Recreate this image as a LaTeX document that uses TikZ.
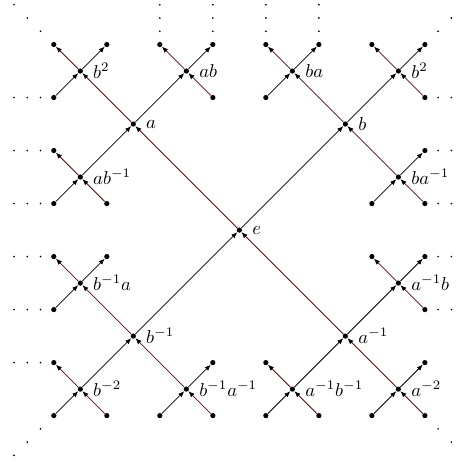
\documentclass[tikz,border=0pt]{standalone}
\usetikzlibrary{arrows.meta}
\definecolor{GenRed}{HTML}{5C0A0A}
\tikzset{vtx/.style={circle,fill=black,inner sep=0pt,minimum size=2.8pt},lbl/.style={label distance=1.8pt},
aout/.style={GenRed,-{Latex[length=3.2pt,width=2.6pt,black]}},ain/.style={GenRed,{Latex[length=3.2pt,width=2.6pt,black]}-},
bout/.style={black,-{Latex[length=3.2pt,width=2.6pt]}},bin/.style={black,{Latex[length=3.2pt,width=2.6pt]}-}}

\begin{document}
\begin{tikzpicture}[x=.5cm,y=.5cm]
\useasboundingbox (-9.03,-8.68) rectangle (8.40,8.68);
% second level with its leaves
\foreach \n/\x/\y/\t/\leaves in {
  aa/-6/6/{$b^2$}/{-1/1/aout,1/1/bout,-1/-1/bin},
  ab/-2/6/{$ab$}/{-1/1/aout,1/1/bout,1/-1/ain},
  abi/-6/2/{$ab^{-1}$}/{-1/1/aout,-1/-1/bin,1/-1/ain},
  ba/2/6/{$ba$}/{-1/1/aout,1/1/bout,-1/-1/bin},
  bb/6/6/{$b^2$}/{-1/1/aout,1/1/bout,1/-1/ain},
  bai/6/2/{$ba^{-1}$}/{1/1/bout,-1/-1/bin,1/-1/ain},
  bia/-6/-2/{$b^{-1}a$}/{-1/1/aout,1/1/bout,-1/-1/bin},
  bibi/-6/-6/{$b^{-2}$}/{-1/1/aout,-1/-1/bin,1/-1/ain},
  biai/-2/-6/{$b^{-1}a^{-1}$}/{1/1/bout,-1/-1/bin,1/-1/ain},
  aib/6/-2/{$a^{-1}b$}/{-1/1/aout,1/1/bout,1/-1/ain},
  aibi/2/-6/{$a^{-1}b^{-1}$}/{-1/1/aout,-1/-1/bin,1/-1/ain},
  aiai/6/-6/{$a^{-2}$}/{1/1/bout,-1/-1/bin,1/-1/ain}}{
  \node[vtx,label={[lbl]right:\t}] (\n) at (\x,\y) {};
  \foreach \dx/\dy/\s [count=\i] in \leaves {
    \node[vtx] (\n-\i) at ({\x+\dx},{\y+\dy}) {};
    \draw[\s] (\n) -- (\n-\i);
  }
}
% first level
\node[vtx,label={[lbl]right:$e$}] (e) at (0,0) {};
\node[vtx,label={[lbl]right:$a$}] (a) at (-4,4) {};
\node[vtx,label={[lbl]right:$b$}] (b) at (4,4) {};
\node[vtx,label={[lbl]right:$b^{-1}$}] (bi) at (-4,-4) {};
\node[vtx,label={[lbl]right:$a^{-1}$}] (ai) at (4,-4) {};
\draw[aout] (e)--(a); \draw[bout] (e)--(b); \draw[bout] (bi)--(e); \draw[aout] (ai)--(e);
\draw[aout] (a)--(aa); \draw[bout] (a)--(ab); \draw[bout] (abi)--(a);
\draw[aout] (b)--(ba); \draw[bout] (b)--(bb); \draw[aout] (bai)--(b);
\draw[aout] (bi)--(bia); \draw[bout] (bibi)--(bi); \draw[aout] (biai)--(bi);
\draw[bout] (ai)--(aib); \draw[aout] (aiai)--(ai); \draw[bout] (aibi)--(ai);
% continuation dots
\foreach \y in {5,3,1,-1,-3,-5} \foreach \x in {-8.5,-8,-7.5} \fill (\x,\y) circle (0.5pt);
\foreach \y in {5,3,1,-1,-3} \foreach \x in {7.5,8,8.5} \fill (\x,\y) circle (0.5pt);
\foreach \x in {-3,-1,1,3} \foreach \y in {7.5,8,8.5} \fill (\x,\y) circle (0.5pt);
\foreach \s in {7.5,8,8.5} {\fill (-\s,\s) circle (0.5pt); \fill (\s,\s) circle (0.5pt);
  \fill (-\s,-\s) circle (0.5pt); \fill (\s,-\s) circle (0.5pt);}
\end{tikzpicture}
\end{document}
